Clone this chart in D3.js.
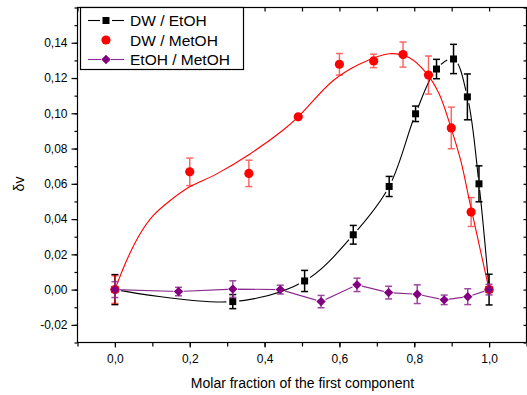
<!DOCTYPE html>
<html><head><meta charset="utf-8">
<script src="https://cdn.jsdelivr.net/npm/d3@7"></script>
<style>body{margin:0;background:#fff;} text{font-family:Arial,"Liberation Sans",sans-serif;}</style>
</head><body><svg id="c" width="527" height="395"></svg>
<script>
// DW / EtOH (black squares)
const dwEtohX   = [0, 0.315, 0.507, 0.637, 0.733, 0.8035, 0.8595, 0.905, 0.942, 0.973, 1.0];
const dwEtohY   = [0, -0.0068, 0.0049, 0.0311, 0.0585, 0.0997, 0.1251, 0.1308, 0.1093, 0.060, 0.0];
const dwEtohErr = [0.0085, 0.004, 0.006, 0.0053, 0.0057, 0.0044, 0.0055, 0.0083, 0.013, 0.0102, 0.0087];
// DW / MetOH (red circles)
const dwMetohX   = [0, 0.2, 0.358, 0.49, 0.6, 0.6915, 0.77, 0.838, 0.899, 0.952, 1.0];
const dwMetohY   = [0, 0.0668, 0.0659, 0.098, 0.1278, 0.1297, 0.1333, 0.1217, 0.0917, 0.044, 0];
const dwMetohErr = [0.0078, 0.0078, 0.0075, 0, 0.0061, 0.0038, 0.0071, 0.0108, 0.0118, 0.0082, 0];
// DW / MetOH fitted curve
const fitX = [0, 0.031, 0.067, 0.102, 0.147, 0.2, 0.271, 0.36, 0.449, 0.49, 0.582, 0.653, 0.733, 0.787, 0.835, 0.867, 0.898, 0.9245, 0.95, 1.0];
const fitY = [0, 0.0164, 0.0315, 0.0419, 0.0504, 0.0583, 0.0655, 0.0768, 0.0904, 0.098, 0.1183, 0.1278, 0.1338, 0.1315, 0.1221, 0.1108, 0.0919, 0.073, 0.048, 0];
// EtOH / MetOH (purple diamonds)
const etMetX   = [0, 0.17, 0.315, 0.442, 0.551, 0.647, 0.7315, 0.808, 0.88, 0.943, 1.0];
const etMetY   = [0, -0.0011, 0.0003, 0.0, -0.0068, 0.0027, -0.0017, -0.0026, -0.0058, -0.004, 0.0];
const etMetErr = [0.0045, 0.0024, 0.0047, 0.0025, 0.0035, 0.0038, 0.0036, 0.0053, 0.0027, 0.0045, 0.003];

const xTicks = [0, 0.2, 0.4, 0.6, 0.8, 1.0];
const yTicks = [-0.02, 0, 0.02, 0.04, 0.06, 0.08, 0.10, 0.12, 0.14];
const legendLabels = ["DW / EtOH", "DW / MetOH", "EtOH / MetOH"];
const xTitle = "Molar fraction of the first component";
const yTitle = "δv";

const svg = d3.select("#c");
const L = 77.5, R = 526.5, T = 7.5, B = 342.5;
const x = d3.scaleLinear().domain([-0.1, 1.1]).range([L, R]);
const y = d3.scaleLinear().domain([-0.03, 0.16]).range([B, T]);
const comma = f => v => d3.format(f)(v).replace(".", ",").replace("−", "-");

// frame
svg.append("rect").attr("x", L).attr("y", T).attr("width", R - L).attr("height", B - T)
  .attr("fill", "none").attr("stroke", "#000").attr("stroke-width", 1.2);

const minorX = d3.range(-0.1, 1.1001, 0.1).map(v => +v.toFixed(2));
const minorY = d3.range(-0.03, 0.1601, 0.01).map(v => +v.toFixed(3));

function styleAxis(g) { g.select(".domain").remove(); g.selectAll("line").attr("stroke", "#000").attr("stroke-width", 1.2); g.selectAll("text").attr("font-size", 12).attr("fill", "#000"); }

// bottom
svg.append("g").attr("transform", `translate(0,${B})`)
  .call(d3.axisBottom(x).tickValues(minorX).tickSize(4).tickFormat("")).call(styleAxis);
svg.append("g").attr("transform", `translate(0,${B})`)
  .call(d3.axisBottom(x).tickValues(xTicks).tickSize(5).tickPadding(7).tickFormat(comma(".1f"))).call(styleAxis);
// top (inward)
svg.append("g").attr("transform", `translate(0,${T})`)
  .call(d3.axisBottom(x).tickValues(minorX).tickSize(4).tickFormat("")).call(styleAxis);
// left
svg.append("g").attr("transform", `translate(${L},0)`)
  .call(d3.axisLeft(y).tickValues(minorY).tickSize(3).tickFormat("")).call(styleAxis);
svg.append("g").attr("transform", `translate(${L},0)`)
  .call(d3.axisLeft(y).tickValues(yTicks).tickSize(6).tickPadding(4).tickFormat(comma(".2f"))).call(styleAxis);
// right (inward)
svg.append("g").attr("transform", `translate(${R},0)`)
  .call(d3.axisLeft(y).tickValues(minorY).tickSize(3).tickFormat("")).call(styleAxis);

// titles
svg.append("text").attr("x", (L + R) / 2 + 0.5).attr("y", 388).attr("text-anchor", "middle")
  .attr("font-size", 14).text(xTitle);
svg.append("text").attr("transform", "translate(24,184) rotate(-90)").attr("text-anchor", "middle")
  .attr("font-size", 14).text(yTitle);

const defs = svg.append("defs");
function gapMask(id, xs, ys, r) {
  const m = defs.append("mask").attr("id", id).attr("maskUnits", "userSpaceOnUse")
    .attr("x", 0).attr("y", 0).attr("width", 527).attr("height", 395);
  m.append("rect").attr("width", 527).attr("height", 395).attr("fill", "#fff");
  xs.forEach((v, i) => m.append("circle").attr("cx", x(v)).attr("cy", y(ys[i])).attr("r", r).attr("fill", "#000"));
}

function errBars(g, xs, ys, es, color, op) {
  xs.forEach((v, i) => {
    if (!es[i]) return;
    const cx = x(v), y1 = y(ys[i] + es[i]), y2 = y(ys[i] - es[i]);
    const e = g.append("g").attr("stroke", color).attr("stroke-width", 1.5).attr("opacity", op);
    e.append("line").attr("x1", cx).attr("x2", cx).attr("y1", y1).attr("y2", y2);
    e.append("line").attr("x1", cx - 3.5).attr("x2", cx + 3.5).attr("y1", y1).attr("y2", y1);
    e.append("line").attr("x1", cx - 3.5).attr("x2", cx + 3.5).attr("y1", y2).attr("y2", y2);
  });
}

const sq = d3.symbol().type(d3.symbolSquare).size(49);
const ci = d3.symbol().type(d3.symbolCircle).size(Math.PI * 4.6 * 4.6);
const di = d3.symbol().type(d3.symbolSquare).size(44);

// Black series
gapMask("mBlack", dwEtohX, dwEtohY, 6.5);
const gB = svg.append("g");
gB.append("path").attr("d", d3.line().x(d => x(d[0])).y(d => y(d[1])).curve(d3.curveCatmullRom.alpha(0.5))(dwEtohX.map((v, i) => [v, dwEtohY[i]])))
  .attr("fill", "none").attr("stroke", "#000").attr("stroke-width", 1.1).attr("mask", "url(#mBlack)");
errBars(gB, dwEtohX, dwEtohY, dwEtohErr, "#000", 1);
dwEtohX.forEach((v, i) => gB.append("path").attr("d", sq).attr("transform", `translate(${x(v)},${y(dwEtohY[i])})`).attr("fill", "#000"));

// Red series
const gR = svg.append("g");
gR.append("path").attr("d", d3.line().x(d => x(d[0])).y(d => y(d[1])).curve(d3.curveCatmullRom.alpha(0.5))(fitX.map((v, i) => [v, fitY[i]])))
  .attr("fill", "none").attr("stroke", "#ff0000").attr("stroke-width", 1.1);
errBars(gR, dwMetohX, dwMetohY, dwMetohErr, "#ff0000", 0.6);
dwMetohX.forEach((v, i) => gR.append("path").attr("d", ci).attr("transform", `translate(${x(v)},${y(dwMetohY[i])})`).attr("fill", "#ff0000"));

// Purple series
gapMask("mPurple", etMetX, etMetY, 5);
const gP = svg.append("g");
gP.append("path").attr("d", d3.line().x(d => x(d[0])).y(d => y(d[1]))(etMetX.map((v, i) => [v, etMetY[i]])))
  .attr("fill", "none").attr("stroke", "#8a2b8f").attr("stroke-width", 1.1).attr("mask", "url(#mPurple)");
errBars(gP, etMetX, etMetY, etMetErr, "#8a2b8f", 0.85);
etMetX.forEach((v, i) => gP.append("path").attr("d", di).attr("transform", `translate(${x(v)},${y(etMetY[i])}) rotate(45)`).attr("fill", "#800080"));

// Legend
const lg = svg.append("g");
lg.append("rect").attr("x", 80.5).attr("y", T).attr("width", 163).attr("height", 62)
  .attr("fill", "#fff").attr("stroke", "#000").attr("stroke-width", 1.2);
const rowsY = [20.5, 40, 59.5];
const lx1 = 88, lx2 = 124, lm = 106;
// row 1
lg.append("line").attr("x1", lx1).attr("x2", lm - 6).attr("y1", rowsY[0]).attr("y2", rowsY[0]).attr("stroke", "#000").attr("stroke-width", 1.1);
lg.append("line").attr("x1", lm + 6).attr("x2", lx2).attr("y1", rowsY[0]).attr("y2", rowsY[0]).attr("stroke", "#000").attr("stroke-width", 1.1);
lg.append("path").attr("d", sq).attr("transform", `translate(${lm},${rowsY[0]})`).attr("fill", "#000");
// row 2
lg.append("path").attr("d", ci).attr("transform", `translate(${lm},${rowsY[1]})`).attr("fill", "#ff0000");
// row 3
lg.append("line").attr("x1", lx1).attr("x2", lm - 5).attr("y1", rowsY[2]).attr("y2", rowsY[2]).attr("stroke", "#8a2b8f").attr("stroke-width", 1.1);
lg.append("line").attr("x1", lm + 5).attr("x2", lx2).attr("y1", rowsY[2]).attr("y2", rowsY[2]).attr("stroke", "#8a2b8f").attr("stroke-width", 1.1);
lg.append("path").attr("d", di).attr("transform", `translate(${lm},${rowsY[2]}) rotate(45)`).attr("fill", "#800080");
legendLabels.forEach((t, i) => lg.append("text").attr("x", 130).attr("y", rowsY[i] + 5.5).attr("font-size", 15.5).text(t));
</script></body></html>
